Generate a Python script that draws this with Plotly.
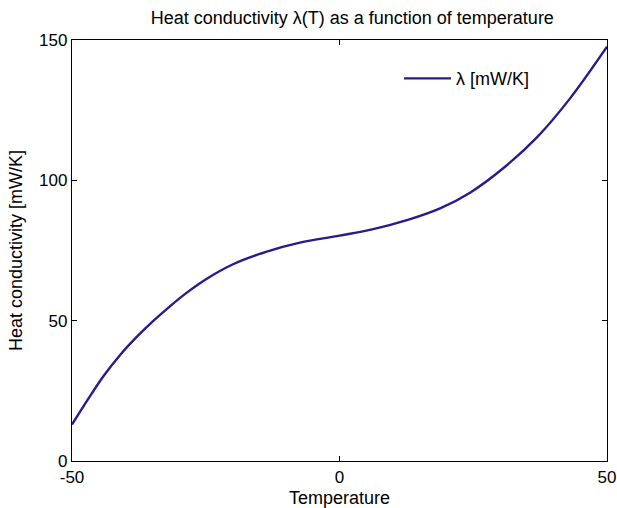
import plotly.graph_objects as go

temperature = [-50, -46.6, -44.1, -41.0, -37.9, -34.8, -31.7, -28.6, -24.5, -19.8, -13.6, -7.4, 0,
               6.3, 12.6, 18.8, 24.4, 30.6, 36.9, 43.1, 50]
conductivity = [13.0, 23.2, 30.3, 37.8, 44.2, 49.9, 55.1, 59.9, 65.3, 70.2, 74.6, 77.8, 80.3,
                82.6, 85.8, 90.0, 95.6, 104.3, 115.3, 129.2, 147.6]
x_ticks = [-50, 0, 50]
y_ticks = [0, 50, 100, 150]

font = "Liberation Sans, Arial, sans-serif"

fig = go.Figure()
fig.add_trace(go.Scatter(
    x=temperature, y=conductivity, mode="lines", name="λ [mW/K]",
    line=dict(color="#2a1a8a", width=2.4, shape="spline", smoothing=1.0),
))

axis_common = dict(
    showgrid=False, zeroline=False, showline=True, linecolor="black", linewidth=1.3,
    mirror="ticks", ticks="inside", ticklen=5, tickwidth=1, tickcolor="black",
    tickfont=dict(family=font, size=17, color="black"), automargin=False,
)
fig.update_xaxes(range=[-50, 50], tickvals=x_ticks, ticktext=[str(v) for v in x_ticks],
                 title=dict(text="Temperature", font=dict(family=font, size=18, color="black"), standoff=5),
                 **axis_common)
fig.update_yaxes(range=[0, 150], tickvals=y_ticks, ticktext=[str(v) for v in y_ticks],
                 title=dict(text="Heat conductivity [mW/K]", font=dict(family=font, size=18, color="black"), standoff=11),
                 **axis_common)

fig.update_layout(
    width=617, height=508,
    margin=dict(l=72, r=10, t=40, b=47),
    paper_bgcolor="white", plot_bgcolor="white",
    title=dict(text="Heat conductivity λ(T) as a function of temperature",
               font=dict(family=font, size=18, color="black"),
               x=0.571, xanchor="center", y=0.966, yanchor="middle"),
    showlegend=True,
    legend=dict(x=0.6112, y=0.952, xanchor="left", yanchor="top", bgcolor="rgba(0,0,0,0)",
                font=dict(family=font, size=18, color="black"), itemwidth=47),
)

fig.write_html("out.html", config={"displayModeBar": False},
               post_script="document.body.style.margin='0';")
